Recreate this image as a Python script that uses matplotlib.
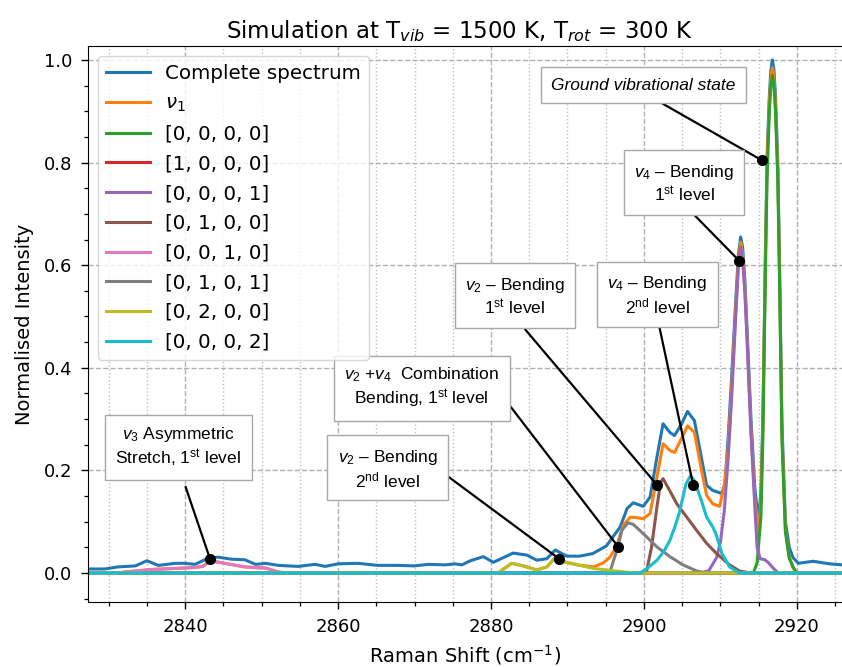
import matplotlib
matplotlib.use("Agg")
import matplotlib.pyplot as plt
from matplotlib.ticker import MultipleLocator

# Series (Raman shift in cm-1, normalised intensity)

complete_x = [2827, 2829.5, 2831.2, 2833.5, 2835.0, 2836.5, 2838.7, 2840.0, 2841.3,
              2843.0, 2844.3, 2846.1, 2847.8, 2849.2, 2850.5, 2852.2, 2854.8, 2857.0,
              2858.3, 2860.0, 2862.6, 2865.2, 2867.8, 2870.0, 2871.8, 2874.0, 2875.3,
              2876.2, 2877.3, 2879.0, 2880.3, 2882.9, 2884.7, 2886.0, 2887.3, 2888.4,
              2889.9, 2891.6, 2893.3, 2895.1, 2896.9, 2897.8, 2898.6, 2899.9, 2900.8,
              2901.7, 2902.5, 2903.4, 2904.0, 2904.9, 2905.7, 2906.6, 2907.5, 2908.2,
              2909.0, 2910.2, 2910.6, 2911.0, 2911.5, 2912.0, 2912.35, 2912.65, 2912.9,
              2913.2, 2913.5, 2914.0, 2914.5, 2915.0, 2915.3, 2915.55, 2915.9, 2916.1,
              2916.4, 2916.6, 2916.8, 2917.0, 2917.2, 2917.5, 2917.7, 2918.05, 2918.5,
              2919.0, 2919.5, 2920.2, 2922.1, 2924.3, 2926]
complete_y = [0.008, 0.008, 0.012, 0.014, 0.024, 0.015, 0.019, 0.019, 0.017,
              0.029, 0.031, 0.027, 0.026, 0.017, 0.019, 0.015, 0.013, 0.017,
              0.013, 0.018, 0.019, 0.015, 0.015, 0.014, 0.017, 0.016, 0.018,
              0.016, 0.024, 0.032, 0.021, 0.039, 0.035, 0.025, 0.028, 0.045,
              0.033, 0.033, 0.038, 0.053, 0.090, 0.126, 0.137, 0.130, 0.148,
              0.226, 0.291, 0.274, 0.268, 0.290, 0.315, 0.297, 0.226, 0.171,
              0.161, 0.155, 0.175, 0.26, 0.39, 0.53, 0.62, 0.655, 0.635,
              0.57, 0.47, 0.30, 0.165, 0.10, 0.16, 0.30, 0.64, 0.81,
              0.93, 0.98, 1.0, 0.98, 0.93, 0.80, 0.63, 0.29, 0.10,
              0.05, 0.03, 0.019, 0.023, 0.018, 0.016]

v1_x = [2827, 2831, 2832, 2835.6, 2838.7, 2841.3, 2842.3, 2843.3, 2845.2, 2847.8,
        2850.5, 2852.2, 2853.5, 2880.9, 2882.7, 2884.2, 2886.0, 2887.3, 2888.4,
        2889.5, 2891.3, 2893.4, 2894.7, 2895.5, 2896.4, 2897.3, 2898.2, 2899.1,
        2899.9, 2900.8, 2901.7, 2902.5, 2903.4, 2904.0, 2904.9, 2905.7, 2906.6,
        2907.5, 2908.2, 2909.0, 2909.9, 2910.5, 2911.0, 2911.5, 2912.0, 2912.35,
        2912.65, 2912.9, 2913.2, 2913.5, 2914.0, 2914.5, 2915.0, 2915.3, 2915.55,
        2915.9, 2916.1, 2916.4, 2916.6, 2916.8, 2917.0, 2917.2, 2917.5, 2917.7,
        2918.05, 2918.5, 2919.0, 2919.5, 2920.0, 2926]
v1_y = [0, 0, 0.002, 0.007, 0.009, 0.011, 0.013, 0.024, 0.019, 0.012,
        0.010, 0.002, 0, 0, 0.019, 0.014, 0.006, 0.012, 0.030,
        0.022, 0.016, 0.012, 0.020, 0.030, 0.051, 0.093, 0.109, 0.108,
        0.106, 0.116, 0.187, 0.252, 0.239, 0.235, 0.262, 0.287, 0.274,
        0.203, 0.151, 0.135, 0.130, 0.17, 0.24, 0.37, 0.51, 0.605,
        0.645, 0.62, 0.555, 0.455, 0.28, 0.145, 0.08, 0.14, 0.285,
        0.625, 0.795, 0.92, 0.965, 0.985, 0.965, 0.915, 0.785, 0.615,
        0.27, 0.085, 0.03, 0.01, 0, 0]

s0000_x = [2827, 2914.3, 2914.8, 2915.3, 2915.55, 2915.9, 2916.1, 2916.4, 2916.6,
           2916.8, 2917.0, 2917.2, 2917.5, 2917.7, 2918.05, 2918.5, 2919.0, 2919.5,
           2920.0, 2926]
s0000_y = [0, 0, 0.02, 0.11, 0.26, 0.60, 0.77, 0.90, 0.95,
           0.97, 0.95, 0.90, 0.77, 0.60, 0.26, 0.08, 0.03, 0.012,
           0, 0]

s1000_x = [2827, 2926]
s1000_y = [0, 0]

s0001_x = [2827, 2907.5, 2908.5, 2909.5, 2910.0, 2910.5, 2911.0, 2911.5, 2912.0,
           2912.35, 2912.65, 2912.9, 2913.2, 2913.5, 2914.0, 2914.5, 2914.8, 2915.2,
           2915.8, 2916.3, 2917.0, 2917.6, 2926]
s0001_y = [0, 0, 0.005, 0.03, 0.06, 0.12, 0.22, 0.35, 0.50,
           0.595, 0.635, 0.61, 0.545, 0.45, 0.27, 0.13, 0.05, 0.028,
           0.026, 0.02, 0.008, 0, 0]

s0100_x = [2827, 2900.3, 2901.0, 2901.7, 2902.2, 2902.5, 2903.1, 2904.3, 2905.6,
           2906.9, 2908.2, 2909.5, 2911.2, 2912.5, 2914, 2926]
s0100_y = [0, 0, 0.051, 0.129, 0.178, 0.184, 0.168, 0.135, 0.109,
           0.083, 0.058, 0.038, 0.016, 0.004, 0, 0]

s0010_x = [2827, 2831.3, 2832.2, 2835.6, 2838.7, 2841.3, 2842.3, 2843.3, 2845.2,
           2847.8, 2849.5, 2850.5, 2852.2, 2853.5, 2926]
s0010_y = [0, 0, 0.002, 0.007, 0.009, 0.011, 0.013, 0.024, 0.019,
           0.012, 0.010, 0.010, 0.002, 0, 0]

s0101_x = [2827, 2895.5, 2896.6, 2897.1, 2897.9, 2898.6, 2899.9, 2901.7, 2903.4,
           2905.1, 2906.9, 2908.2, 2926]
s0101_y = [0, 0, 0.051, 0.083, 0.098, 0.095, 0.077, 0.051, 0.032,
           0.016, 0.004, 0, 0]

s0200_x = [2827, 2880.9, 2882.7, 2884.2, 2886.0, 2887.3, 2888.4, 2889.5, 2891.3,
           2893.4, 2895.1, 2897.6, 2899, 2926]
s0200_y = [0, 0, 0.019, 0.014, 0.006, 0.012, 0.030, 0.022, 0.016,
           0.009, 0.006, 0.002, 0, 0]

s0002_x = [2827, 2899.5, 2900.5, 2901.7, 2902.6, 2903.4, 2904.0, 2904.6, 2905.5,
           2906.1, 2906.6, 2907.5, 2908.2, 2909.0, 2909.4, 2910.2, 2911.2, 2912.5, 2926]
s0002_y = [0, 0, 0.010, 0.025, 0.042, 0.064, 0.088, 0.116, 0.174,
           0.190, 0.180, 0.142, 0.109, 0.090, 0.077, 0.038, 0.012, 0, 0]

series = [
    ("Complete spectrum", complete_x, complete_y),
    (r"$\nu_1$", v1_x, v1_y),
    ("[0, 0, 0, 0]", s0000_x, s0000_y),
    ("[1, 0, 0, 0]", s1000_x, s1000_y),
    ("[0, 0, 0, 1]", s0001_x, s0001_y),
    ("[0, 1, 0, 0]", s0100_x, s0100_y),
    ("[0, 0, 1, 0]", s0010_x, s0010_y),
    ("[0, 1, 0, 1]", s0101_x, s0101_y),
    ("[0, 2, 0, 0]", s0200_x, s0200_y),
    ("[0, 0, 0, 2]", s0002_x, s0002_y),
]

# Annotations: label, point marked on the spectrum, box centre
note_labels = [
    "Ground vibrational state",
    "$v_4$ – Bending\n$1^{\\mathrm{st}}$ level",
    "$v_4$ – Bending\n$2^{\\mathrm{nd}}$ level",
    "$v_2$ – Bending\n$1^{\\mathrm{st}}$ level",
    "$v_2$ +$v_4$  Combination\nBending, $1^{\\mathrm{st}}$ level",
    "$v_2$ – Bending\n$2^{\\mathrm{nd}}$ level",
    "$v_3$ Asymmetric\nStretch, $1^{\\mathrm{st}}$ level",
]
note_pt_x = [2915.47, 2912.43, 2906.45, 2901.75, 2896.65, 2888.9, 2843.27]
note_pt_y = [0.804, 0.609, 0.171, 0.171, 0.051, 0.028, 0.027]
note_box_x = [2899.91, 2905.25, 2901.73, 2883.14, 2870.94, 2866.51, 2839.12]
note_box_y = [0.951, 0.759, 0.541, 0.539, 0.361, 0.203, 0.245]
note_relpos = [(0.5, 0), (0.5, 0), (0.5, 0), (0.5, 0), (1.0, 0.41), (1.0, 0.5), (0.51, 0)]
note_shrink = [0, 0, 0, 1, 0, 0, 5]


def main():
    fig = plt.figure(figsize=(8.42, 6.67), dpi=100)
    ax = fig.add_axes([0.1045, 0.0975, 0.8955, 0.8336])

    for label, x, y in series:
        ax.plot(x, y, lw=2.2, label=label)

    ax.set_xlim(2827.3, 2925.9)
    ax.set_ylim(-0.0563, 1.0272)
    ax.xaxis.set_major_locator(MultipleLocator(20))
    ax.xaxis.set_minor_locator(MultipleLocator(5))
    ax.yaxis.set_major_locator(MultipleLocator(0.2))
    ax.yaxis.set_minor_locator(MultipleLocator(0.05))
    ax.grid(True, which="major", linestyle="--", color="#b0b0b0", lw=1)
    ax.xaxis.grid(True, which="minor", linestyle=":", color="#c0c0c0", lw=1)
    ax.spines["right"].set_visible(False)
    ax.tick_params(which="major", labelsize=13, length=5, width=1, pad=6.5)
    ax.tick_params(which="minor", length=3, width=0.9)

    ax.set_title(r"Simulation at T$_{vib}$ = 1500 K, T$_{rot}$ = 300 K",
                 fontsize=16.5, x=0.492)
    ax.set_xlabel(r"Raman Shift (cm$^{-1}$)", fontsize=14, labelpad=5)
    ax.set_ylabel("Normalised Intensity", fontsize=14, labelpad=7)

    leg = ax.legend(loc="upper left", fontsize=14.3, labelspacing=0.54,
                    handlelength=2.2)
    leg.set_zorder(10)

    for i, text in enumerate(note_labels):
        style = "italic" if i == 0 else "normal"
        ax.annotate(text, xy=(note_pt_x[i], note_pt_y[i]),
                    xytext=(note_box_x[i], note_box_y[i]), textcoords="data",
                    ha="center", va="center", multialignment="center",
                    fontsize=12.5, family="Liberation Sans", fontstyle=style,
                    math_fontfamily="custom",
                    bbox=dict(boxstyle="square,pad=0.6", fc="white", ec="#a8a8a8", lw=1),
                    arrowprops=dict(arrowstyle="-", color="k", lw=1.6,
                                    shrinkA=note_shrink[i], shrinkB=0,
                                    relpos=note_relpos[i]),
                    zorder=5)
    ax.plot(note_pt_x, note_pt_y, "o", color="k", ms=7, zorder=6)

    fig.savefig("out.png", dpi=100)


if __name__ == "__main__":
    plt.rcParams["mathtext.rm"] = "Liberation Sans"
    plt.rcParams["mathtext.it"] = "Liberation Sans:italic"
    plt.rcParams["mathtext.bf"] = "Liberation Sans:bold"
    main()
